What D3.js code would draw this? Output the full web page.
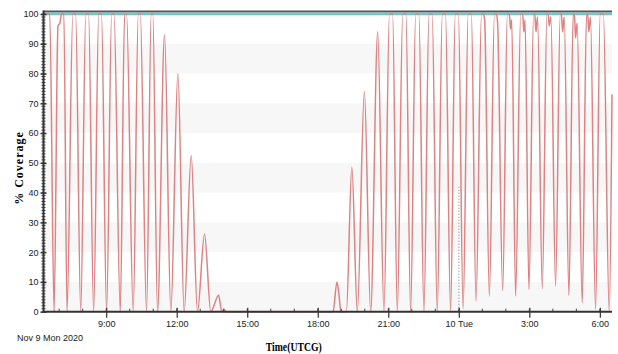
<!DOCTYPE html>
<html>
<head>
<meta charset="utf-8">
<script src="https://cdn.jsdelivr.net/npm/d3@7"></script>
<style>
  body { margin: 0; background: #fff; }
  text { font-family: "Liberation Sans Narrow", "Liberation Sans", Arial, sans-serif; }
  text.serif { font-family: "Liberation Serif", "Times New Roman", serif; }
</style>
</head>
<body>
<script>
// sample times (day of Nov 2020 + UTCG clock) and % coverage
var times = [
  "09 06:20", "09 06:36", "09 06:47", "09 06:57", "09 07:02", "09 07:06", "09 07:12", "09 07:20",
  "09 07:35", "09 07:42", "09 07:55", "09 08:08", "09 08:15", "09 08:28", "09 08:41", "09 08:48",
  "09 09:01", "09 09:14", "09 09:20", "09 09:36", "09 09:47", "09 09:52", "09 10:09", "09 10:22",
  "09 10:27", "09 10:43", "09 10:55", "09 10:59", "09 11:11", "09 11:29", "09 11:45", "09 12:03",
  "09 12:19", "09 12:37", "09 12:53", "09 13:11", "09 13:27", "09 13:47", "09 13:55", "09 14:01",
  "09 14:06", "09 18:39", "09 18:49", "09 18:54", "09 18:59", "09 19:13", "09 19:27", "09 19:41",
  "09 19:59", "09 20:15", "09 20:33", "09 20:49", "09 21:03", "09 21:11", "09 21:23", "09 21:37",
  "09 21:45", "09 21:57", "09 22:10", "09 22:18", "09 22:31", "09 22:44", "09 22:52", "09 23:05",
  "09 23:18", "09 23:26", "09 23:39", "09 23:51", "09 23:59",
  "10 00:11", "10 00:24", "10 00:32", "10 00:44", "10 00:58", "10 01:03", "10 01:06", "10 01:18",
  "10 01:31", "10 01:36", "10 01:39", "10 01:52", "10 02:04", "10 02:09", "10 02:12", "10 02:15",
  "10 02:25", "10 02:38", "10 02:43", "10 02:46", "10 02:49", "10 02:59", "10 03:11", "10 03:14",
  "10 03:17", "10 03:21", "10 03:33", "10 03:45", "10 03:48", "10 03:51", "10 03:55", "10 04:07",
  "10 04:19", "10 04:22", "10 04:25", "10 04:29", "10 04:41", "10 04:52", "10 04:55", "10 04:58",
  "10 05:02", "10 05:15", "10 05:26", "10 05:29", "10 05:32", "10 05:36", "10 05:49", "10 06:01",
  "10 06:09", "10 06:24", "10 06:31"
];
var coverage = [
  100, 100, 0, 96, 97, 100, 100, 0,
  100, 100, 0, 100, 100, 0, 100, 100,
  0, 100, 100, 0, 100, 100, 0, 100,
  100, 0, 100, 100, 0, 93, 0, 80,
  0, 52.5, 0, 26, 0, 5.5, 0, 0.8,
  0, 0, 10, 6, 0, 0, 48.5, 0,
  74, 0, 94, 0, 100, 100, 0, 100,
  100, 0, 100, 100, 0, 100, 100, 0,
  100, 100, 0, 100, 100,
  1, 100, 100, 3.5, 100, 100, 98, 5.2,
  100, 100, 97, 7, 100, 100, 95, 98,
  5.3, 100, 100, 94, 98, 7.5, 100, 100,
  94, 99, 7.8, 100, 100, 96, 99, 8.6,
  100, 100, 94, 99, 5.5, 100, 100, 92,
  97, 3, 100, 100, 94, 99, 0.7, 100,
  100, 0, 73
];
var domainTimes = ["09 06:20", "10 06:31"];
var tickTimes = ["09 09:00", "09 12:00", "09 15:00", "09 18:00", "09 21:00", "10 00:00", "10 03:00", "10 06:00"];
var tickLabels = ["9:00", "12:00", "15:00", "18:00", "21:00", "10 Tue", "3:00", "6:00"];
var yTicks = [0, 10, 20, 30, 40, 50, 60, 70, 80, 90, 100];
var bandStarts = [0, 20, 40, 60, 80];
var fullCoverage = 100;
var dayMark = { time: "10 00:00", top: 42 };
var startLabel = "Nov 9 Mon 2020";

var parse = d3.timeParse("%Y-%m-%d %H:%M");
var toDate = s => parse("2020-11-" + s);

var W = 618, H = 354;
var margin = { top: 14, right: 6, bottom: 42.3, left: 43.5 };
var w = W - margin.left - margin.right;
var h = H - margin.top - margin.bottom;

var svg = d3.select("body").append("svg")
  .attr("width", W)
  .attr("height", H);

var g = svg.append("g")
  .attr("transform", `translate(${margin.left},${margin.top})`);

var x = d3.scaleTime().domain(domainTimes.map(toDate)).range([0, w]);
var y = d3.scaleLinear().domain([0, 100]).range([h, 0]);

// striped background
g.selectAll("rect.band").data(bandStarts)
  .enter().append("rect")
  .attr("class", "band")
  .attr("x", 0)
  .attr("width", w)
  .attr("y", d => y(d + 10))
  .attr("height", d => y(d) - y(d + 10))
  .attr("fill", "#f7f7f7");

// day boundary marker
g.append("line")
  .attr("x1", x(toDate(dayMark.time))).attr("x2", x(toDate(dayMark.time)))
  .attr("y1", y(dayMark.top)).attr("y2", y(0))
  .attr("stroke", "#a8a8a8")
  .attr("stroke-width", 1.5)
  .attr("stroke-dasharray", "1,2");

// frame top
g.append("line")
  .attr("x1", 0).attr("x2", w)
  .attr("y1", y(100) - 2.5).attr("y2", y(100) - 2.5)
  .attr("stroke", "#555")
  .attr("stroke-width", 2);

// 100% reference series
g.append("line")
  .attr("x1", 0).attr("x2", w)
  .attr("y1", y(fullCoverage)).attr("y2", y(fullCoverage))
  .attr("stroke", "#6ccaca")
  .attr("stroke-width", 2.5);

var data = times.map((t, i) => ({ t: toDate(t), v: coverage[i] }));

var line = d3.line()
  .x(d => x(d.t))
  .y(d => y(d.v))
  .curve(d3.curveMonotoneX);

g.append("path")
  .attr("d", line(data))
  .attr("fill", "none")
  .attr("stroke", "#de8282")
  .attr("stroke-width", 1.5);

// y axis
var yAxis = g.append("g")
  .call(d3.axisLeft(y).tickValues(yTicks).tickSize(6).tickFormat(d3.format("d")));
yAxis.select(".domain").remove();
yAxis.selectAll(".tick line").attr("x2", 3).attr("x1", -3).attr("stroke", "#333").attr("stroke-width", 1.5);
yAxis.selectAll(".tick text").attr("x", -5).attr("font-size", 9).attr("fill", "#222");

g.append("g").selectAll("line").data(d3.range(0, 101, 1))
  .enter().append("line")
  .attr("x1", -2).attr("x2", 2)
  .attr("y1", d => y(d)).attr("y2", d => y(d))
  .attr("stroke", "#444").attr("stroke-width", 1);

g.append("line")
  .attr("x1", 0).attr("x2", 0)
  .attr("y1", y(100) - 3.5).attr("y2", h)
  .attr("stroke", "#333").attr("stroke-width", 2);

// x axis
var xAxis = g.append("g")
  .attr("transform", `translate(0,${h})`)
  .call(d3.axisBottom(x).tickValues(tickTimes.map(toDate)).tickSize(6)
    .tickFormat((d, i) => tickLabels[i]));
xAxis.select(".domain").remove();
xAxis.selectAll(".tick line").attr("y1", -4).attr("y2", 6).attr("stroke", "#333").attr("stroke-width", 1.2);
xAxis.selectAll(".tick text").attr("y", 9).attr("font-size", 9).attr("fill", "#222");

g.append("g").selectAll("line")
  .data(d3.timeHour.range(...domainTimes.map(toDate)))
  .enter().append("line")
  .attr("x1", d => x(d)).attr("x2", d => x(d))
  .attr("y1", h - 3).attr("y2", h)
  .attr("stroke", "#444").attr("stroke-width", 1);

g.append("line")
  .attr("x1", 0).attr("x2", w)
  .attr("y1", h).attr("y2", h)
  .attr("stroke", "#333").attr("stroke-width", 2);

// labels
svg.append("text")
  .attr("x", 17).attr("y", 341)
  .attr("font-size", 9).attr("fill", "#222")
  .text(startLabel);

svg.append("text")
  .attr("class", "serif")
  .attr("x", margin.left + x(toDate("09 18:00")) - 24).attr("y", 351)
  .attr("text-anchor", "middle")
  .attr("font-size", 12).attr("font-weight", "bold")
  .attr("textLength", 56).attr("lengthAdjust", "spacingAndGlyphs")
  .text("Time(UTCG)");

svg.append("text")
  .attr("class", "serif")
  .attr("transform", "translate(23,168) rotate(-90)")
  .attr("text-anchor", "middle")
  .attr("font-size", 12).attr("font-weight", "bold")
  .attr("letter-spacing", 1)
  .text("% Coverage");
</script>
</body>
</html>
